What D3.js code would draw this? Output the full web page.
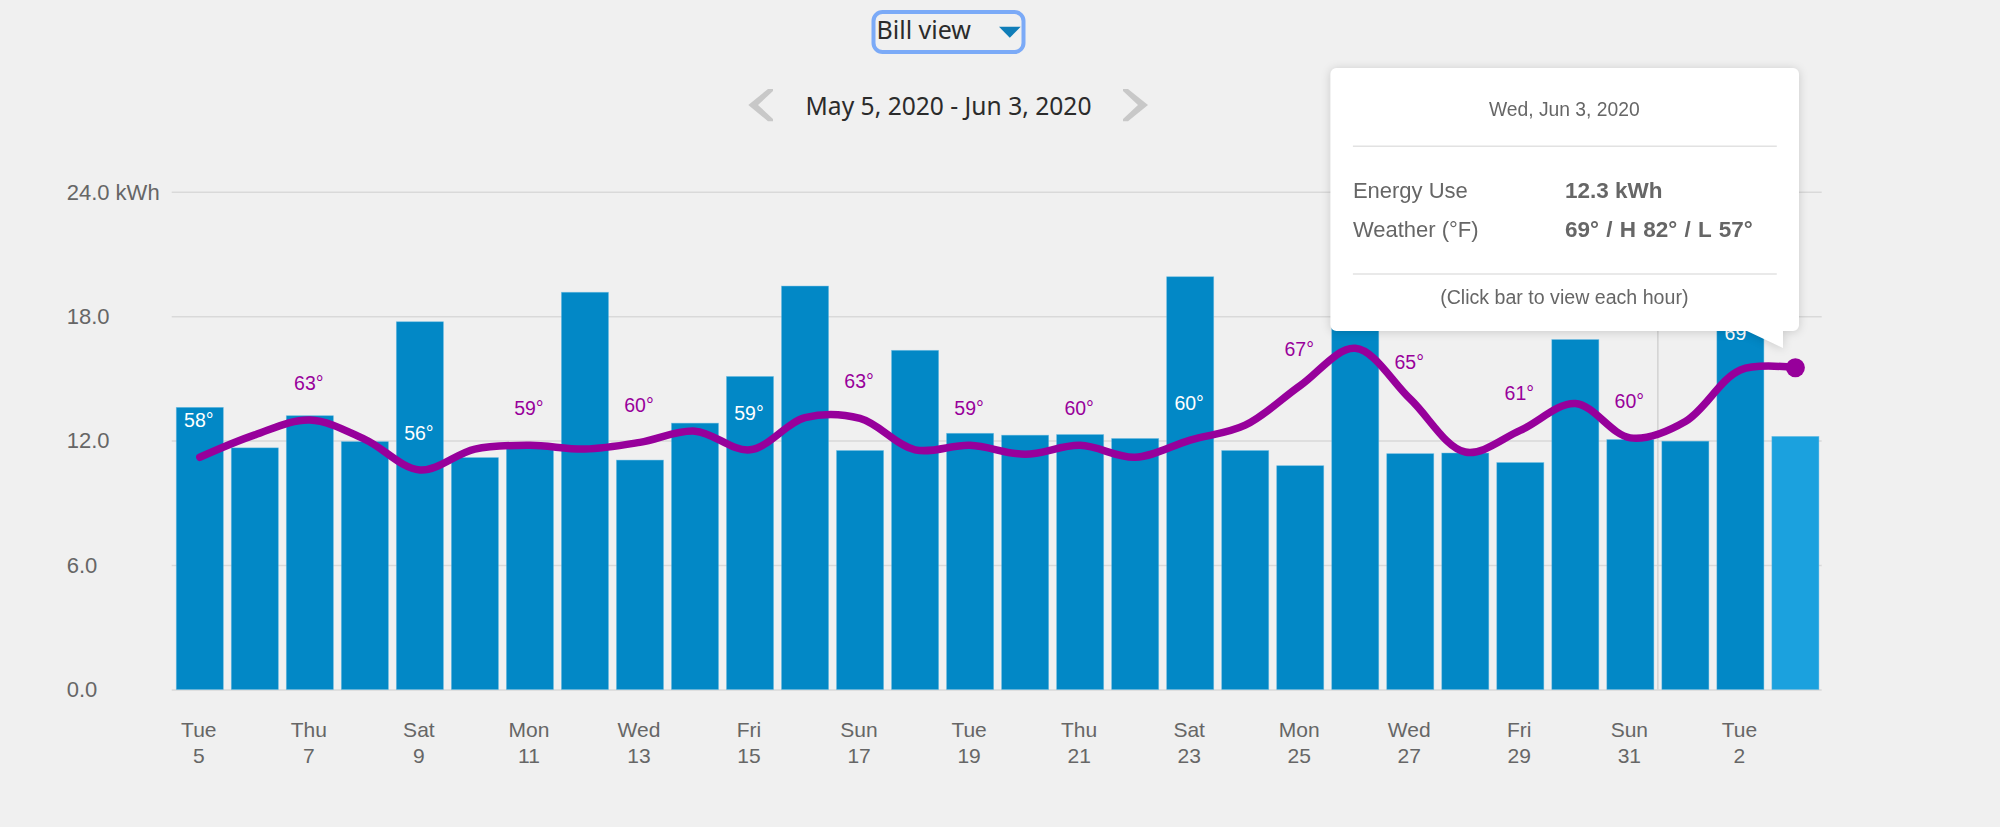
<!DOCTYPE html>
<html>
<head>
<meta charset="utf-8">
<script src="https://cdn.jsdelivr.net/npm/d3@7"></script>
<style>
  html, body { margin: 0; padding: 0; background: #f0f0f0; }
  svg { display: block; }
  text { font-family: "Liberation Sans", Arial, sans-serif; }
  .din { font-family: "Noto Sans", sans-serif; fill: #2b2b2b; }
</style>
</head>
<body>
<svg id="chart" width="2000" height="827"></svg>
<script>
/** Data **/
var weekdays = ['Tue','Wed','Thu','Fri','Sat','Sun','Mon','Tue','Wed','Thu','Fri','Sat','Sun','Mon','Tue','Wed','Thu','Fri','Sat','Sun','Mon','Tue','Wed','Thu','Fri','Sat','Sun','Mon','Tue','Wed'];
var dayNums = [5,6,7,8,9,10,11,12,13,14,15,16,17,18,19,20,21,22,23,24,25,26,27,28,29,30,31,1,2,3];
var energyUse = [13.6,11.65,13.2,11.95,17.73,11.18,11.63,19.15,11.06,12.84,15.09,19.45,11.52,16.35,12.35,12.26,12.29,12.1,19.9,11.52,10.79,20.5,11.37,11.4,10.94,16.87,12.05,11.97,18.5,12.2];
var tempLine = [58,61,63,60.4,56.3,59.1,59.6,59.1,60,61.5,59,63.3,63.2,59,59.6,58.4,59.6,58,60.3,62.3,67.6,72.6,65.8,58.7,61.6,65.2,60.6,62.8,69.7,70];
var tempLabels = [58,null,63,null,56,null,59,null,60,null,59,null,63,null,59,null,60,null,60,null,67,null,65,null,61,null,60,null,69,null];
var yTicks = [0,6,12,18,24];

// tooltip text
var tipDate = 'Wed, Jun 3, 2020';
var tipRows = [['Energy Use','12.3 kWh'],['Weather (°F)','69° / H 82° / L 57°']];
var tipNote = '(Click bar to view each hour)';

var svg = d3.select('#chart');
var idx = d3.range(energyUse.length);

/** Scales **/
var x = d3.scaleBand().domain(idx).range([176.3, 1818.9]).paddingInner(8 / 55).paddingOuter(0);
var y = d3.scaleLinear().domain([0, 24]).range([689.5, 191.7]);
// weather line has its own scale, 7.46px per degree
var yTemp = d3.scaleLinear().domain([26.8, 93.6]).range([690, 191.7]);

/** Grid and y axis **/
var yAxis = d3.axisLeft(y).tickValues(yTicks).tickSize(0).tickPadding(0)
  .tickFormat(function(d) { return d === 24 ? '24.0 kWh' : d.toFixed(1); });
var yG = svg.append('g').attr('id', 'y-axis').call(yAxis);
yG.select('.domain').remove();
yG.selectAll('text')
  .attr('x', 66.7).attr('y', -1).attr('dy', '0.38em').attr('text-anchor', 'start')
  .attr('font-size', 22).attr('font-family', null).attr('fill', '#666');
yG.selectAll('.tick line')
  .attr('x1', 171.7).attr('x2', 1821.7).attr('stroke', '#d9d9d9').attr('stroke-width', 1.5);

// month divider between May 31 and Jun 1
var dividerX = x(27) - x.step() * (8 / 55) / 2;
svg.append('line')
  .attr('x1', dividerX).attr('x2', dividerX)
  .attr('y1', y(24)).attr('y2', y(0))
  .attr('stroke', '#d2d2d2').attr('stroke-width', 1.5);

/** Bars **/
svg.append('g').attr('id', 'bars').selectAll('rect')
  .data(idx).enter().append('rect')
  .attr('x', function(i) { return x(i); })
  .attr('width', x.bandwidth())
  .attr('y', function(i) { return y(energyUse[i]); })
  .attr('height', function(i) { return y(0) - y(energyUse[i]); })
  .attr('fill', function(i) { return i === 29 ? '#1ba1de' : '#0288c6'; })
  .attr('stroke', '#5db8e4').attr('stroke-opacity', 0.5).attr('stroke-width', 0.8);

/** x axis, every other day **/
var xAxis = d3.axisBottom(x).tickValues(idx.filter(function(i) { return i % 2 === 0 && i < 29; })).tickSize(0).tickFormat('');
var xG = svg.append('g').attr('id', 'x-axis').attr('transform', 'translate(0,' + y(0) + ')').call(xAxis);
xG.select('.domain').remove();
xG.selectAll('.tick text').each(function(i) {
  var t = d3.select(this).attr('y', 0).attr('dy', null).attr('font-size', 21).attr('font-family', null).attr('fill', '#666');
  t.append('tspan').attr('x', -1).attr('y', 47).text(weekdays[i]);
  t.append('tspan').attr('x', -1).attr('y', 73.5).text(dayNums[i]);
});

/** Weather line **/
var line = d3.line()
  .x(function(i) { return x(i) + x.bandwidth() / 2; })
  .y(function(i) { return yTemp(tempLine[i]); })
  .curve(d3.curveCatmullRom.alpha(0.5));
svg.append('path').attr('id', 'weather-line')
  .attr('d', line(idx))
  .attr('fill', 'none').attr('stroke', '#97009b').attr('stroke-width', 7.5).attr('stroke-linecap', 'round');
svg.append('circle')
  .attr('cx', x(29) + x.bandwidth() / 2).attr('cy', yTemp(tempLine[29])).attr('r', 9.5).attr('fill', '#97009b');

svg.append('g').attr('id', 'weather-labels').selectAll('text')
  .data(idx.filter(function(i) { return tempLabels[i] !== null; })).enter().append('text')
  .attr('x', function(i) { return x(i) + x.bandwidth() / 2 - 1; })
  .attr('y', function(i) { return yTemp(tempLine[i]) - 30; })
  .attr('text-anchor', 'middle').attr('font-size', 19.5)
  // white when the label sits on top of its bar
  .attr('fill', function(i) { return y(energyUse[i]) < yTemp(tempLine[i]) - 44 ? '#fff' : '#98009b'; })
  .text(function(i) { return tempLabels[i] + '°'; });

/** Bill view selector **/
var sel = svg.append('g').attr('id', 'selector');
sel.append('rect').attr('x', 873.5).attr('y', 12).attr('width', 150).attr('height', 40).attr('rx', 9)
  .attr('fill', 'none').attr('stroke', '#7baaf7').attr('stroke-width', 4);
sel.append('text').attr('class', 'din').attr('x', 876.5).attr('y', 39).attr('font-size', 25).text('Bill view');
sel.append('path').attr('d', 'M999,26.7L1020.7,26.7L1009.8,37.7Z').attr('fill', '#0f7db8');

/** Date range **/
svg.append('text').attr('class', 'din').attr('x', 948.5).attr('y', 115).attr('text-anchor', 'middle')
  .attr('font-size', 24.6).text('May 5, 2020 - Jun 3, 2020');
svg.append('path').attr('d', 'M768,89L773,89L773,91L758,105L773,119L773,121.3L768,121.3L748.3,105Z').attr('fill', '#c8c8c8');
svg.append('path').attr('d', 'M1128,89L1123,89L1123,91L1138,105L1123,119L1123,121.3L1128,121.3L1148,105Z').attr('fill', '#c8c8c8');

/** Tooltip **/
var tip = svg.append('g').attr('id', 'tooltip').style('filter', 'drop-shadow(0 1px 5px rgba(0,0,0,0.16))');
tip.append('path')
  .attr('d', 'M1336.4,68H1793a6,6 0 0 1 6,6V325a6,6 0 0 1 -6,6H1783V348L1747,331H1336.4a6,6 0 0 1 -6,-6V74a6,6 0 0 1 6,-6Z')
  .attr('fill', '#fff');
tip.append('text').attr('x', 1564.3).attr('y', 116).attr('text-anchor', 'middle').attr('font-size', 19.3).attr('fill', '#666').text(tipDate);
[146.3, 274].forEach(function(ly) {
  tip.append('line').attr('x1', 1352.9).attr('x2', 1776.8).attr('y1', ly).attr('y2', ly).attr('stroke', '#e2e2e2').attr('stroke-width', 1.5);
});
tipRows.forEach(function(r, i) {
  var by = 198 + i * 39;
  tip.append('text').attr('x', 1352.9).attr('y', by).attr('font-size', 22).attr('fill', '#666').text(r[0]);
  tip.append('text').attr('x', 1565).attr('y', by).attr('font-size', 22.5).attr('font-weight', 'bold')
    .attr('word-spacing', i === 1 ? 1 : 0).attr('fill', '#666').text(r[1]);
});
tip.append('text').attr('x', 1564.3).attr('y', 304).attr('text-anchor', 'middle').attr('font-size', 19.6).attr('fill', '#666').text(tipNote);
</script>
</body>
</html>
